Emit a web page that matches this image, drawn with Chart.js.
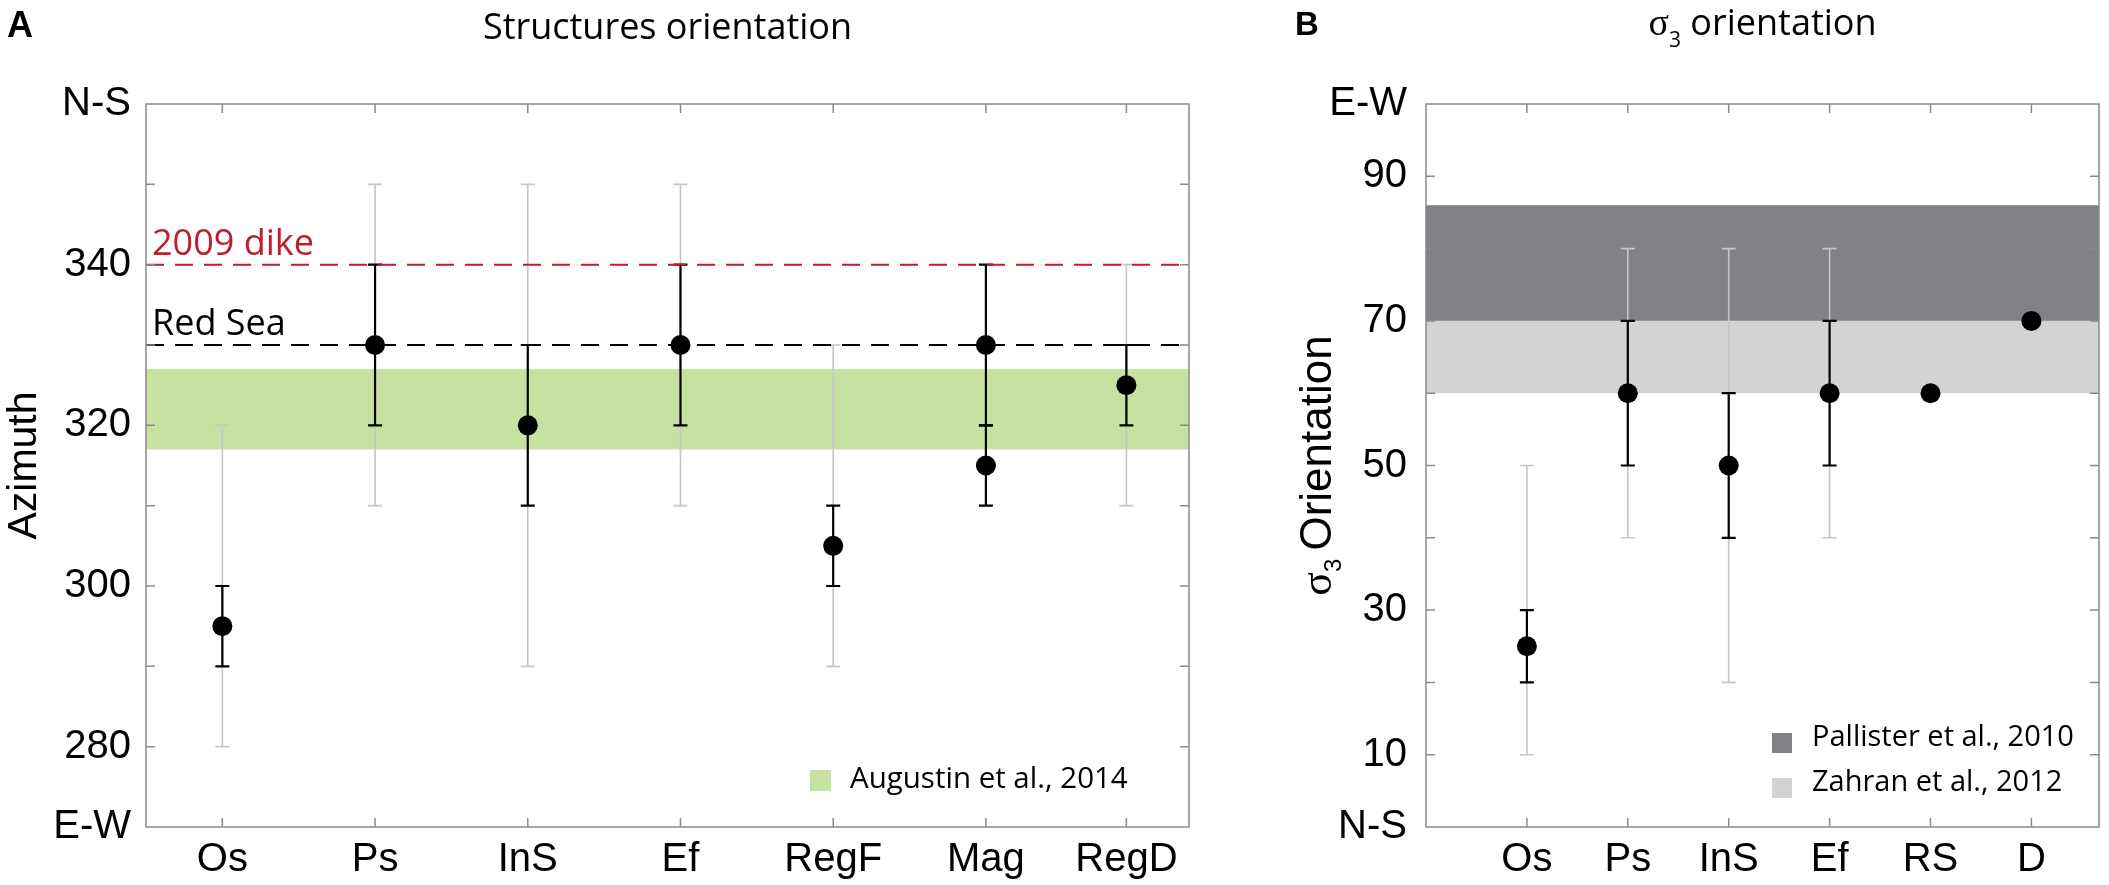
<!DOCTYPE html>
<html>
<head>
<meta charset="utf-8">
<script src="https://cdn.jsdelivr.net/npm/chart.js@4.4.1/dist/chart.umd.min.js"></script>
<style>
  html, body { margin: 0; padding: 0; background: #fff; }
  #wrap { position: relative; width: 2109px; height: 885px; }
  #chartA { position: absolute; left: 0; top: 0; }
  #chartB { position: absolute; left: 1260px; top: 0; }
</style>
</head>
<body>
<div id="wrap">
  <canvas id="chartA" width="1260" height="885"></canvas>
  <canvas id="chartB" width="849" height="885"></canvas>
</div>
<script>
// ---- Panel A: structures orientation (azimuth, degrees) ----
const azCategories = ['Os', 'Ps', 'InS', 'Ef', 'RegF', 'Mag', 'RegD'];
const azPositions = [1, 2, 3, 4, 5, 6, 6.92];
const azMean = [295, 330, 320, 330, 305, 330, 325];
const azErrLow = [290, 320, 310, 320, 300, 320, 320];
const azErrHigh = [300, 340, 330, 340, 310, 340, 330];
const azRangeLow = [280, 310, 290, 310, 290, null, 310];
const azRangeHigh = [320, 350, 350, 350, 330, null, 340];
// second population measured for Mag
const azMag2Mean = 315;
const azMag2Low = 310;
const azMag2High = 320;
const azTickLabels = { 270: 'E-W', 280: '280', 300: '300', 320: '320', 340: '340', 360: 'N-S' };
const azXRange = [0.5, 7.33];
const dikeAzimuth = 340;
const redSeaAzimuth = 330;
const augustinBand = [317, 327];

// ---- Panel B: sigma3 orientation ----
const s3Categories = ['Os', 'Ps', 'InS', 'Ef', 'RS', 'D'];
const s3Positions = [1, 2, 3, 4, 5, 6];
const s3Mean = [25, 60, 50, 60, 60, 70];
const s3ErrLow = [20, 50, 40, 50, null, null];
const s3ErrHigh = [30, 70, 60, 70, null, null];
const s3RangeLow = [10, 40, 20, 40, null, null];
const s3RangeHigh = [50, 80, 80, 80, null, null];
const s3TickLabels = { 0: 'N-S', 10: '10', 30: '30', 50: '50', 70: '70', 90: '90', 100: 'E-W' };
const s3XRange = [0, 6.67];
const pallisterBand = [70, 86];
const zahranBand = [60, 70];

const SANS = '"Liberation Sans", Arial, Helvetica, sans-serif';
const MYRIAD = '"Open Sans", "Noto Sans", sans-serif';
const SERIF = '"Liberation Serif", "DejaVu Serif", serif';
const FRAME = '#8a8a8a';
const GREEN = '#c6e2a1';
const DARK_GREY = '#808285';
const LIGHT_GREY = '#d1d3d4';
const BAR_GREY = '#c6c6c6';

Chart.defaults.font.family = SANS;
Chart.defaults.color = '#000';

// draws a run of text pieces (different fonts / baseline shifts) one after another
function drawPieces(ctx, pieces, x, y, center) {
    let total = 0;
    pieces.forEach(p => { ctx.font = p.font; total += ctx.measureText(p.t).width + (p.gap || 0); });
    let cx = center ? x - total / 2 : x;
    pieces.forEach(p => {
        ctx.font = p.font;
        ctx.fillText(p.t, cx, y + (p.dy || 0));
        cx += ctx.measureText(p.t).width + (p.gap || 0);
    });
}

// bands + error bars under the datasets, frame and inward ticks on top
function makeDecor(bands, bars) {
    return {
        id: 'decor',
        beforeDatasetsDraw(chart) {
            const { ctx, chartArea: a, scales: { x, y } } = chart;
            ctx.save();
            bands.forEach(b => {
                const top = y.getPixelForValue(b.range[1]);
                const bot = y.getPixelForValue(b.range[0]);
                ctx.fillStyle = b.color;
                ctx.fillRect(a.left, top, a.width, bot - top);
            });
            bars.forEach(s => {
                ctx.strokeStyle = s.color;
                ctx.lineWidth = s.width;
                s.pos.forEach((p, i) => {
                    if (s.lo[i] == null) return;
                    const px = x.getPixelForValue(p);
                    const y1 = y.getPixelForValue(s.lo[i]);
                    const y2 = y.getPixelForValue(s.hi[i]);
                    ctx.beginPath();
                    ctx.moveTo(px, y1); ctx.lineTo(px, y2);
                    ctx.moveTo(px - 7, y1); ctx.lineTo(px + 7, y1);
                    ctx.moveTo(px - 7, y2); ctx.lineTo(px + 7, y2);
                    ctx.stroke();
                });
            });
            ctx.restore();
        },
        afterDraw(chart) {
            const { ctx, chartArea: a, scales: { x, y } } = chart;
            ctx.save();
            ctx.strokeStyle = FRAME;
            ctx.lineWidth = 1.5;
            ctx.strokeRect(a.left, a.top, a.width, a.height);
            ctx.beginPath();
            x.ticks.forEach(t => {
                const px = x.getPixelForValue(t.value);
                ctx.moveTo(px, a.bottom); ctx.lineTo(px, a.bottom - 9);
                ctx.moveTo(px, a.top); ctx.lineTo(px, a.top + 9);
            });
            y.ticks.forEach(t => {
                const py = y.getPixelForValue(t.value);
                if (Math.abs(py - a.top) < 1 || Math.abs(py - a.bottom) < 1) return;
                ctx.moveTo(a.left, py); ctx.lineTo(a.left + 9, py);
                ctx.moveTo(a.right, py); ctx.lineTo(a.right - 9, py);
            });
            ctx.stroke();
            ctx.restore();
        }
    };
}

function xScale(range, positions, names, pad) {
    return {
        type: 'linear',
        min: range[0],
        max: range[1],
        afterBuildTicks: s => { s.ticks = positions.map(v => ({ value: v })); },
        afterFit: s => { s.height = 58; },
        grid: { display: false, drawTicks: false },
        border: { display: false },
        ticks: {
            autoSkip: false,
            maxRotation: 0,
            padding: pad,
            font: { size: 40 },
            callback: v => names[positions.indexOf(v)]
        }
    };
}

// ---------------- Panel A ----------------
const textA = {
    id: 'textA',
    afterDraw(chart) {
        const { ctx, chartArea: a, scales: { y } } = chart;
        ctx.save();
        ctx.textBaseline = 'alphabetic';
        ctx.fillStyle = '#000';
        ctx.textAlign = 'left';
        ctx.font = 'bold 36px ' + SANS;
        ctx.fillText('A', 7, 37);
        ctx.textAlign = 'center';
        ctx.font = '36px ' + MYRIAD;
        ctx.fillText('Structures orientation', (a.left + a.right) / 2, 39);
        ctx.textAlign = 'left';
        ctx.fillStyle = '#be1e2d';
        ctx.fillText('2009 dike', a.left + 6, y.getPixelForValue(dikeAzimuth) - 10);
        ctx.fillStyle = '#000';
        ctx.fillText('Red Sea', a.left + 6, y.getPixelForValue(redSeaAzimuth) - 10);
        // legend
        ctx.fillStyle = GREEN;
        ctx.fillRect(810, 770, 21, 21);
        ctx.fillStyle = '#000';
        ctx.font = '29.5px ' + MYRIAD;
        ctx.fillText('Augustin et al., 2014', 850, 788);
        ctx.restore();
    }
};

const azPoints = azPositions.map((x, i) => ({ x: x, y: azMean[i] }));
azPoints.push({ x: azPositions[5], y: azMag2Mean });

const azBlackPos = azPositions.concat([azPositions[5]]);
const azBlackLow = azErrLow.concat([azMag2Low]);
const azBlackHigh = azErrHigh.concat([azMag2High]);

new Chart(document.getElementById('chartA'), {
    type: 'scatter',
    data: {
        datasets: [
            {
                label: 'mean',
                data: azPoints,
                pointRadius: 10,
                pointHoverRadius: 10,
                backgroundColor: '#000',
                borderWidth: 0,
                order: 0
            },
            {
                type: 'line',
                label: '2009 dike',
                data: [{ x: azXRange[0], y: dikeAzimuth }, { x: azXRange[1], y: dikeAzimuth }],
                borderColor: '#be1e2d',
                borderWidth: 2,
                borderDash: [18, 11],
                pointRadius: 0,
                order: 1
            },
            {
                type: 'line',
                label: 'Red Sea',
                data: [{ x: azXRange[0], y: redSeaAzimuth }, { x: azXRange[1], y: redSeaAzimuth }],
                borderColor: '#000',
                borderWidth: 2,
                borderDash: [18, 11],
                pointRadius: 0,
                order: 1
            }
        ]
    },
    options: {
        responsive: false,
        animation: false,
        layout: { padding: { top: 104, right: 71, left: 0, bottom: 0 } },
        plugins: { legend: { display: false }, title: { display: false }, tooltip: { enabled: false } },
        scales: {
            x: xScale(azXRange, azPositions, azCategories, 9),
            y: {
                min: 270,
                max: 360,
                ticks: {
                    stepSize: 10,
                    autoSkip: false,
                    padding: 15,
                    font: { size: 40 },
                    callback: v => azTickLabels[v] || ''
                },
                afterFit: s => { s.width = 146; },
                grid: { display: false, drawTicks: false },
                border: { display: false },
                title: {
                    display: true,
                    text: 'Azimuth',
                    font: { size: 41, lineHeight: 1 },
                    padding: { top: 4, bottom: 0 }
                }
            }
        }
    },
    plugins: [
        makeDecor(
            [{ range: augustinBand, color: GREEN }],
            [
                { pos: azPositions, lo: azRangeLow, hi: azRangeHigh, color: BAR_GREY, width: 1.6 },
                { pos: azBlackPos, lo: azBlackLow, hi: azBlackHigh, color: '#000', width: 2.2 }
            ]
        ),
        textA
    ]
});

// ---------------- Panel B ----------------
const textB = {
    id: 'textB',
    afterDraw(chart) {
        const { ctx, chartArea: a } = chart;
        ctx.save();
        ctx.textBaseline = 'alphabetic';
        ctx.fillStyle = '#000';
        ctx.textAlign = 'left';
        ctx.font = 'bold 33px ' + SANS;
        ctx.fillText('B', 35, 35);
        drawPieces(ctx, [
            { t: '\u03c3', font: '38px ' + SERIF },
            { t: '3', font: '21px ' + MYRIAD, dy: 12 },
            { t: ' orientation', font: '36px ' + MYRIAD }
        ], (a.left + a.right) / 2, 35, true);
        // rotated y-axis title
        ctx.save();
        ctx.translate(55, (a.top + a.bottom) / 2);
        ctx.rotate(-Math.PI / 2);
        drawPieces(ctx, [
            { t: '\u03c3', font: '44px ' + SERIF },
            { t: '3', font: '24px ' + SANS, dy: 10, gap: 8 },
            { t: 'Orientation', font: '44px ' + SANS }
        ], 0, 15.5, true);
        ctx.restore();
        // legend
        ctx.fillStyle = DARK_GREY;
        ctx.fillRect(512, 733, 20, 20);
        ctx.fillStyle = LIGHT_GREY;
        ctx.fillRect(512, 778, 20, 20);
        ctx.fillStyle = '#000';
        ctx.font = '29px ' + MYRIAD;
        ctx.fillText('Pallister et al., 2010', 552, 746);
        ctx.fillText('Zahran et al., 2012', 552, 791);
        ctx.restore();
    }
};

new Chart(document.getElementById('chartB'), {
    type: 'scatter',
    data: {
        datasets: [
            {
                label: 'sigma3',
                data: s3Positions.map((x, i) => ({ x: x, y: s3Mean[i] })),
                pointRadius: 10,
                pointHoverRadius: 10,
                backgroundColor: '#000',
                borderWidth: 0
            }
        ]
    },
    options: {
        responsive: false,
        animation: false,
        layout: { padding: { top: 104, right: 5, left: 0, bottom: 0 } },
        plugins: { legend: { display: false }, title: { display: false }, tooltip: { enabled: false } },
        scales: {
            x: xScale(s3XRange, s3Positions, s3Categories, 9),
            y: {
                min: 0,
                max: 100,
                ticks: {
                    stepSize: 10,
                    autoSkip: false,
                    padding: 19,
                    font: { size: 40 },
                    callback: v => s3TickLabels[v] || ''
                },
                afterFit: s => { s.width = 166; },
                grid: { display: false, drawTicks: false },
                border: { display: false }
            }
        }
    },
    plugins: [
        makeDecor(
            [{ range: pallisterBand, color: DARK_GREY }, { range: zahranBand, color: LIGHT_GREY }],
            [
                { pos: s3Positions, lo: s3RangeLow, hi: s3RangeHigh, color: BAR_GREY, width: 1.6 },
                { pos: s3Positions, lo: s3ErrLow, hi: s3ErrHigh, color: '#000', width: 2.2 }
            ]
        ),
        textB
    ]
});
</script>
</body>
</html>
